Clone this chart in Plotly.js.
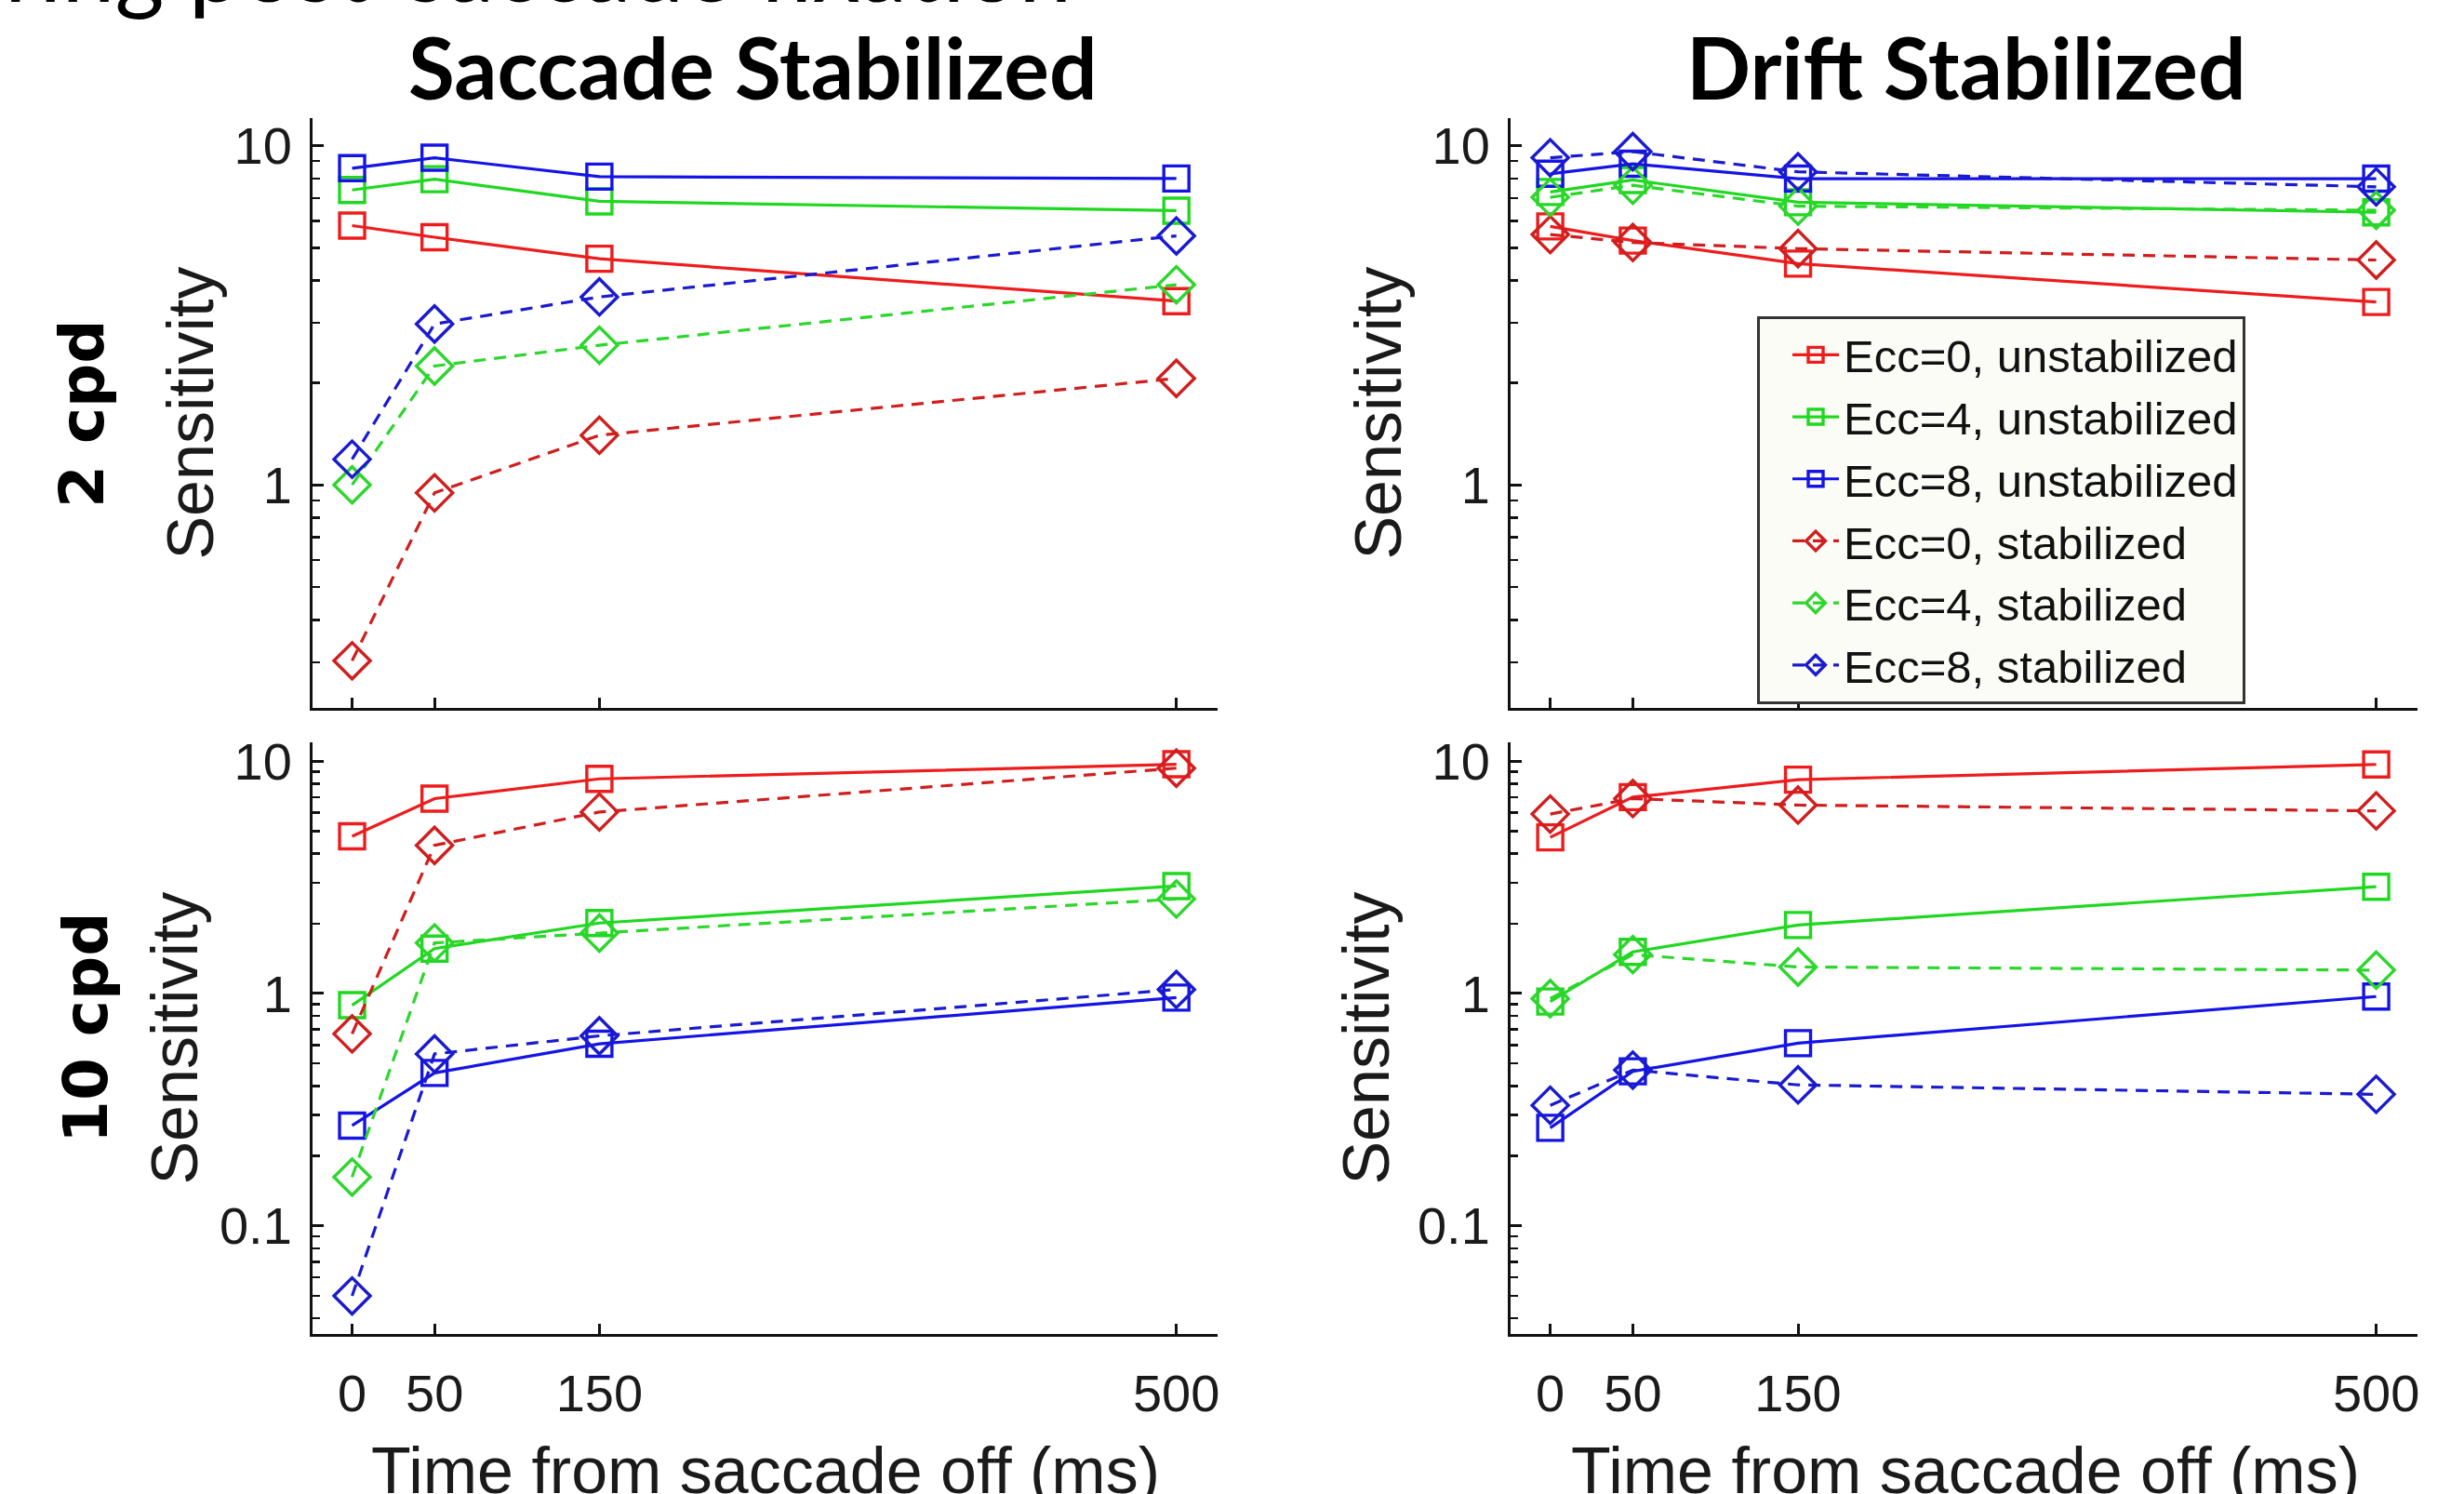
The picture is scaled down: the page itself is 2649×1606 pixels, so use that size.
<!DOCTYPE html>
<html>
<head>
<meta charset="utf-8">
<script src="https://cdn.plot.ly/plotly-3.0.1.min.js"></script>
<style>html,body{margin:0;padding:0;background:#fff;}#chart{width:2649px;height:1606px;}</style>
</head>
<body>
<div id="chart"></div>
<script>
// ---------- data ----------
const times = [0, 50, 150, 500];
const timeLabels = ['0', '50', '150', '500'];
const seriesNames = ['Ecc=0, unstabilized', 'Ecc=4, unstabilized', 'Ecc=8, unstabilized',
                     'Ecc=0, stabilized', 'Ecc=4, stabilized', 'Ecc=8, stabilized'];
const columnTitles = ['Saccade Stabilized', 'Drift Stabilized'];
const rowTitles = ['2 cpd', '10 cpd'];
const yTitle = 'Sensitivity';
const xTitle = 'Time from saccade off (ms)';
const topText = 'during post-saccade fixation';

// Saccade stabilized, 2 cpd
const sac2_ecc0_unstab = [5.81, 5.37, 4.64, 3.48];
const sac2_ecc4_unstab = [7.40, 7.96, 6.85, 6.43];
const sac2_ecc8_unstab = [8.58, 9.21, 8.10, 8.00];
const sac2_ecc0_stab   = [0.303, 0.947, 1.40, 2.06];
const sac2_ecc4_stab   = [1.00, 2.24, 2.58, 3.89];
const sac2_ecc8_stab   = [1.19, 2.98, 3.58, 5.42];
// Drift stabilized, 2 cpd
const drift2_ecc0_unstab = [5.78, 5.25, 4.49, 3.46];
const drift2_ecc4_unstab = [7.30, 7.92, 6.81, 6.36];
const drift2_ecc8_unstab = [8.26, 8.84, 7.99, 7.99];
const drift2_ecc0_stab   = [5.47, 5.18, 4.97, 4.60];
const drift2_ecc4_stab   = [7.04, 7.64, 6.63, 6.45];
const drift2_ecc8_stab   = [9.21, 9.60, 8.37, 7.56];
// Saccade stabilized, 10 cpd
const sac10_ecc0_unstab = [4.75, 6.90, 8.39, 9.70];
const sac10_ecc4_unstab = [0.89, 1.56, 2.01, 2.90];
const sac10_ecc8_unstab = [0.27, 0.455, 0.607, 0.96];
const sac10_ecc0_stab   = [0.67, 4.34, 6.04, 9.33];
const sac10_ecc4_stab   = [0.162, 1.65, 1.82, 2.55];
const sac10_ecc8_stab   = [0.0499, 0.549, 0.657, 1.04];
// Drift stabilized, 10 cpd
const drift10_ecc0_unstab = [4.70, 7.00, 8.32, 9.68];
const drift10_ecc4_unstab = [0.923, 1.51, 1.97, 2.88];
const drift10_ecc8_unstab = [0.264, 0.462, 0.611, 0.97];
const drift10_ecc0_stab   = [5.92, 6.90, 6.47, 6.11];
const drift10_ecc4_stab   = [0.95, 1.47, 1.30, 1.26];
const drift10_ecc8_stab   = [0.330, 0.468, 0.404, 0.368];

const majorTicks = [0.1, 1, 10];
const majorTickText = ['0.1', '1', '10'];
const minorTicksTop = [0.3, 0.4, 0.5, 0.6, 0.7, 0.8, 0.9, 2, 3, 4, 5, 6, 7, 8, 9];
const minorTicksBottom = [0.04, 0.05, 0.06, 0.07, 0.08, 0.09, 0.2, 0.3, 0.4, 0.5, 0.6, 0.7, 0.8, 0.9, 2, 3, 4, 5, 6, 7, 8, 9];

// ---------- styles ----------
const colors = ['#ee1c1c', '#1fd81f', '#1414e6', '#d01e1e', '#2cd62c', '#1a1ad0'];
const W = 2649, H = 1606;
const FONT = '"Liberation Sans", Arial, sans-serif';
const TITLE_FONT = 'Lato, "DejaVu Sans Condensed", sans-serif';

const panels = [
  {series: [sac2_ecc0_unstab, sac2_ecc4_unstab, sac2_ecc8_unstab, sac2_ecc0_stab, sac2_ecc4_stab, sac2_ecc8_stab], xa: 'x', ya: 'y', legend: false},
  {series: [drift2_ecc0_unstab, drift2_ecc4_unstab, drift2_ecc8_unstab, drift2_ecc0_stab, drift2_ecc4_stab, drift2_ecc8_stab], xa: 'x2', ya: 'y2', legend: true},
  {series: [sac10_ecc0_unstab, sac10_ecc4_unstab, sac10_ecc8_unstab, sac10_ecc0_stab, sac10_ecc4_stab, sac10_ecc8_stab], xa: 'x3', ya: 'y3', legend: false},
  {series: [drift10_ecc0_unstab, drift10_ecc4_unstab, drift10_ecc8_unstab, drift10_ecc0_stab, drift10_ecc4_stab, drift10_ecc8_stab], xa: 'x4', ya: 'y4', legend: false}
];

const traces = [];
panels.forEach(p => {
  p.series.forEach((vals, i) => {
    const stab = i >= 3;
    traces.push({
      type: 'scatter', mode: 'lines+markers',
      x: times, y: vals, xaxis: p.xa, yaxis: p.ya,
      name: seriesNames[i], showlegend: p.legend,
      line: {color: colors[i], width: 3.2, dash: stab ? '13px,9px' : 'solid'},
      marker: {symbol: stab ? 'diamond-open' : 'square-open', size: stab ? 30 : 27,
               color: colors[i], line: {color: colors[i], width: 3.4}},
      cliponaxis: false
    });
  });
});

const colDom = [[336 / W, 1309 / W], [1624 / W, 2599 / W]];
const rowDom = [[1 - 761 / H, 1 - 127 / H], [1 - 1434 / H, 1 - 798 / H]];
const yRanges = [[Math.log10(0.22), Math.log10(12.05)], [Math.log10(0.0342), Math.log10(12.05)]];
const yTitleStandoff = [[0, 11], [1, 8]];

function xAxis(col, row, anchor) {
  return {
    domain: colDom[col], anchor: anchor, range: [-24, 525],
    tickmode: 'array', tickvals: times, ticktext: timeLabels,
    showticklabels: row === 1,
    ticks: 'inside', ticklen: 11, tickwidth: 3, tickcolor: '#111',
    showline: true, linewidth: 3, linecolor: '#111',
    showgrid: false, zeroline: false, ticklabelstandoff: 13,
    tickfont: {family: FONT, size: 56, color: '#1a1a1a'},
    title: {text: ''}
  };
}
function yAxis(col, row, anchor) {
  return {
    type: 'log', domain: rowDom[row], anchor: anchor, range: yRanges[row],
    tickmode: 'array', tickvals: majorTicks, ticktext: majorTickText,
    ticks: 'inside', ticklen: 12, tickwidth: 3, tickcolor: '#111',
    minor: {tickmode: 'array', tickvals: row === 0 ? minorTicksTop : minorTicksBottom,
            ticks: 'inside', ticklen: 8, tickwidth: 2.5, tickcolor: '#111', showgrid: false},
    showline: true, linewidth: 3, linecolor: '#111',
    showgrid: false, zeroline: false, ticklabelstandoff: 8,
    tickfont: {family: FONT, size: 56, color: '#1a1a1a'},
    title: {text: yTitle, font: {family: FONT, size: 70, color: '#1a1a1a'}, standoff: yTitleStandoff[row][col]}
  };
}

const xTitleAnn = (xc) => ({
  text: xTitle, xref: 'paper', yref: 'paper', x: xc, y: 1 - 1581 / H,
  xanchor: 'center', yanchor: 'middle', showarrow: false,
  font: {family: FONT, size: 70, color: '#1a1a1a'}
});

const layout = {
  width: W, height: H,
  margin: {l: 0, r: 0, t: 0, b: 0},
  paper_bgcolor: '#ffffff', plot_bgcolor: '#ffffff',
  xaxis: xAxis(0, 0, 'y'), yaxis: yAxis(0, 0, 'x'),
  xaxis2: xAxis(1, 0, 'y2'), yaxis2: yAxis(1, 0, 'x2'),
  xaxis3: xAxis(0, 1, 'y3'), yaxis3: yAxis(0, 1, 'x3'),
  xaxis4: xAxis(1, 1, 'y4'), yaxis4: yAxis(1, 1, 'x4'),
  showlegend: true,
  legend: {
    x: 1889 / W, y: 1 - 340 / H, xanchor: 'left', yanchor: 'top',
    bgcolor: '#fcfcf6', bordercolor: '#333', borderwidth: 3,
    font: {family: FONT, size: 49, color: '#111'},
    itemwidth: 50, tracegroupgap: 0, indentation: 30
  },
  annotations: [
    {text: '<b>' + columnTitles[0] + '</b>', xref: 'paper', yref: 'paper', x: 809 / W, y: 1 - 72 / H,
     xanchor: 'center', yanchor: 'middle', showarrow: false,
     font: {family: TITLE_FONT, size: 91, color: '#000'}},
    {text: '<b>' + columnTitles[1] + '</b>', xref: 'paper', yref: 'paper', x: 2114 / W, y: 1 - 72 / H,
     xanchor: 'center', yanchor: 'middle', showarrow: false,
     font: {family: TITLE_FONT, size: 91, color: '#000'}},
    {text: '<b>' + rowTitles[0] + '</b>', xref: 'paper', yref: 'paper', x: 88 / W, y: 1 - 445 / H,
     xanchor: 'center', yanchor: 'middle', showarrow: false, textangle: -90,
     font: {family: '"DejaVu Sans", Verdana, sans-serif', size: 66, color: '#000'}},
    {text: '<b>' + rowTitles[1] + '</b>', xref: 'paper', yref: 'paper', x: 92 / W, y: 1 - 1105 / H,
     xanchor: 'center', yanchor: 'middle', showarrow: false, textangle: -90,
     font: {family: '"DejaVu Sans", Verdana, sans-serif', size: 66, color: '#000'}},
    xTitleAnn(823 / W),
    xTitleAnn(2113 / W),
    {text: topText, xref: 'paper', yref: 'paper', x: -111 / W, y: 1 + 37 / H,
     xanchor: 'left', yanchor: 'middle', showarrow: false,
     font: {family: TITLE_FONT, size: 102, color: '#000'}}
  ]
};

Plotly.newPlot('chart', traces, layout, {staticPlot: true, displayModeBar: false});
</script>
</body>
</html>
